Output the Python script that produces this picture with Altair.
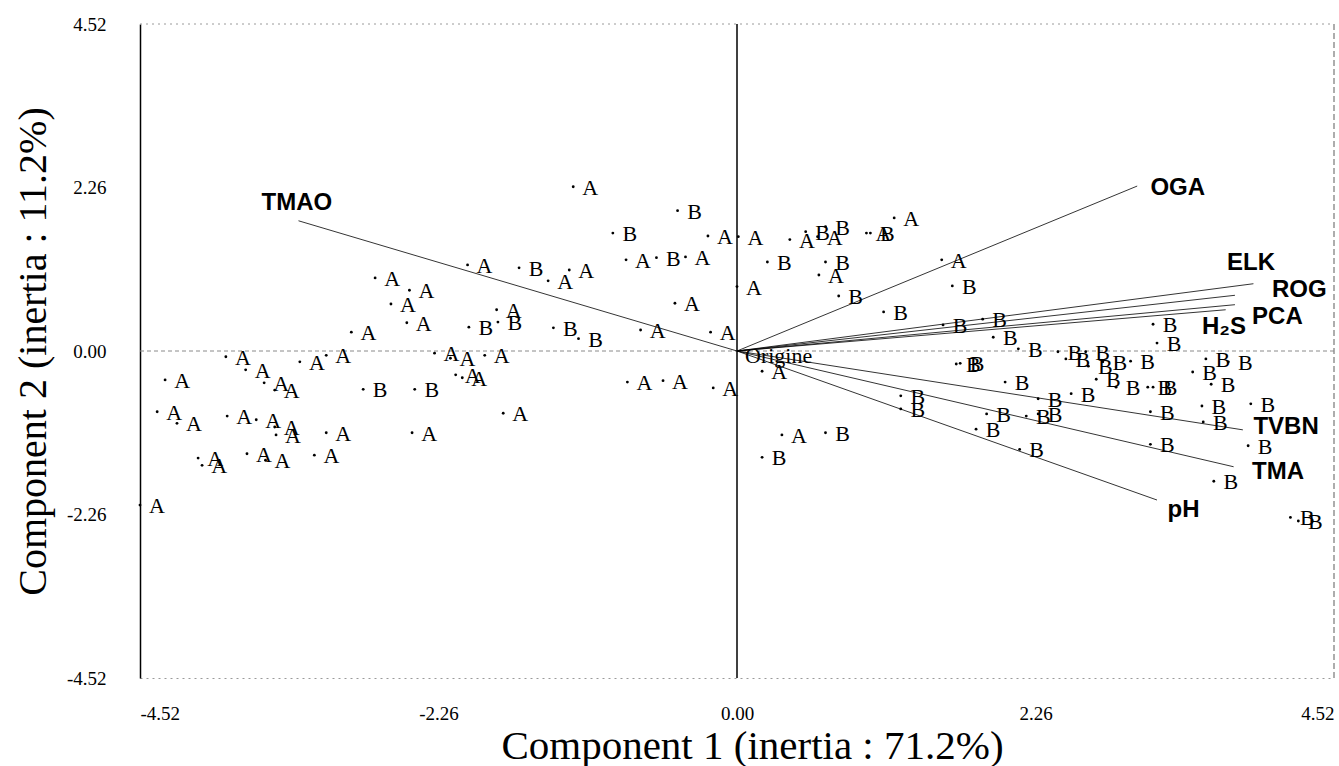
import altair as alt
import pandas as pd

# ---- data ----
a_x = [-3.87, -3.31, -3.11, -3.72, -4.33, -3.58, -3.50, -2.29, -2.17, -1.91,
       -2.13, -2.08, -4.39, -4.24, -3.86, -3.64, -3.50, -3.49, -3.11, -2.46,
       -1.77, -4.08, -4.05, -3.71, -3.57, -3.20, -4.52, -2.92, -1.24, -0.22,
       -0.84, -0.39, -2.04, -1.43, -1.27, -2.74, -2.48, -2.62, -2.50, -1.82,
       -0.47, -0.73, -0.20, -0.83, -0.56, -0.18, 0.19, 0.34, 0.01, 0.40,
       0.61, 0.98, 1.19, 0.62, 0.00, 1.55]
a_y = [-0.08, -0.15, -0.06, -0.26, -0.40, -0.44, -0.54, -0.03, -0.10, -0.06,
       -0.33, -0.37, -0.84, -1.00, -0.90, -0.95, -1.05, -1.16, -1.13, -1.13,
       -0.86, -1.48, -1.58, -1.42, -1.51, -1.44, -2.13, 0.26, 2.27, 1.59,
       1.26, 1.30, 1.19, 0.97, 1.12, 1.01, 0.84, 0.65, 0.39, 0.57,
       0.66, 0.29, 0.26, -0.43, -0.41, -0.51, -0.28, -1.16, 1.58, 1.54,
       1.58, 1.63, 1.84, 1.05, 0.89, 1.26]

b_x = [-2.83, -2.44, -0.45, -0.94, -0.61, -1.65, -2.03, -1.81, -1.39, -1.20,
       0.67, 0.19, 0.52, 0.67, 1.01, 0.23, 0.67, 0.77, 1.11, 1.63,
       1.56, 1.86, 1.94, 3.15, 3.18, 1.66, 1.69, 2.13, 2.43, 2.49,
       2.64, 2.66, 2.77, 2.72, 2.98, 3.55, 3.72, 3.45, 3.59, 2.87,
       3.11, 3.15, 2.03, 2.53, 2.28, 1.24, 1.24, 1.89, 2.19, 2.28,
       3.13, 3.52, 3.53, 3.89, 3.13, 3.87, 1.81, 2.14, 3.61, 4.19, 4.25]
b_y = [-0.53, -0.53, 1.94, 1.63, 1.29, 1.15, 0.33, 0.40, 0.32, 0.17,
       -1.13, -1.47, 1.65, 1.72, 1.63, 1.23, 1.23, 0.76, 0.54, 0.90,
       0.36, 0.44, 0.19, 0.37, 0.11, -0.18, -0.17, 0.03, -0.01, -0.11,
       -0.01, -0.21, -0.15, -0.39, -0.14, -0.11, -0.15, -0.29, -0.46, -0.50,
       -0.50, -0.50, -0.43, -0.59, -0.66, -0.62, -0.80, -0.87, -0.90, -0.87,
       -0.84, -0.76, -0.98, -0.73, -1.29, -1.31, -1.08, -1.36, -1.80, -2.30, -2.35]

var_names = ["TMAO", "OGA", "ELK", "ROG", "PCA", "H\u2082S", "TVBN", "TMA", "pH"]
var_x = [-3.32, 3.03, 3.91, 3.77, 3.77, 3.70, 3.83, 3.76, 3.18]
var_y = [1.80, 2.28, 0.93, 0.77, 0.64, 0.57, -1.09, -1.60, -2.06]
lab_x = [-3.60, 3.13, 3.71, 4.05, 3.90, 3.52, 3.91, 3.90, 3.26]
lab_y = [2.05, 2.25, 1.22, 0.84, 0.47, 0.33, -1.05, -1.67, -2.20]

ticks = [-4.52, -2.26, 0.0, 2.26, 4.52]
lim = 4.52
x_title = "Component 1 (inertia : 71.2%)"
y_title = "Component 2 (inertia : 11.2%)"

# ---- tables ----
pts = pd.DataFrame({
    "x": a_x + b_x,
    "y": a_y + b_y,
    "g": ["A"] * len(a_x) + ["B"] * len(b_x),
})
vec = pd.DataFrame({"x": [0.0] * len(var_names), "y": [0.0] * len(var_names),
                    "vx": var_x, "vy": var_y, "name": var_names,
                    "lx": lab_x, "ly": lab_y})
one = pd.DataFrame({"k": [0]})

W, H = 1194, 654
SERIF = "Liberation Serif"
lbl = "replace(format(datum.value, '.2f'), '\u2212', '-')"

xs = alt.Scale(domain=[-lim, lim], nice=False, zero=False)
ys = alt.Scale(domain=[-lim, lim], nice=False, zero=False)

xaxis = alt.Axis(values=ticks, labelExpr=lbl, labelFont=SERIF, labelFontSize=19,
                 labelColor="black", ticks=False, labelPadding=26,
                 domain=True, domainColor="#9a9a9a", domainDash=[2, 4], domainWidth=1,
                 grid=False, title=x_title, titleFont=SERIF, titleFontSize=41,
                 titleFontWeight="normal", titleColor="black",
                 titleAlign="center", titleBaseline="middle",
                 titleX=W / 2 + 15, titleY=68)
yaxis = alt.Axis(values=ticks, labelExpr=lbl, labelFont=SERIF, labelFontSize=19,
                 labelColor="black", ticks=False, labelPadding=34,
                 domain=True, domainColor="black", domainWidth=1.5,
                 grid=False, title=y_title, titleFont=SERIF, titleFontSize=40,
                 titleFontWeight="normal", titleColor="black",
                 titleAngle=270, titleAlign="center", titleBaseline="middle",
                 titleX=-107, titleY=H / 2)


def X(field):
    return alt.X(field, type="quantitative", scale=xs, axis=xaxis)


def Y(field):
    return alt.Y(field, type="quantitative", scale=ys, axis=yaxis)


base = alt.Chart(pts)

dots = base.mark_circle(size=8, color="black", opacity=1).encode(x=X("x"), y=Y("y"))
letters = base.mark_text(dx=17, dy=1, font=SERIF, fontSize=22, color="black",
                         align="center", baseline="middle").encode(
    x=X("x"), y=Y("y"), text="g:N")

frame_top = alt.Chart(one).mark_rule(color="#9a9a9a", strokeDash=[2, 4], strokeWidth=1).encode(
    x=alt.value(0), x2=alt.value(W), y=alt.value(0))
frame_right = alt.Chart(one).mark_rule(color="#777777", strokeDash=[6, 3], strokeWidth=1.2).encode(
    x=alt.value(W), y=alt.value(0), y2=alt.value(H))

zero_h = alt.Chart(one).mark_rule(color="#8a8a8a", strokeDash=[4, 3], strokeWidth=1).encode(
    y=alt.Y(datum=0, type="quantitative", scale=ys, axis=yaxis))
zero_v = alt.Chart(one).mark_rule(color="black", strokeWidth=1.5).encode(
    x=alt.X(datum=0, type="quantitative", scale=xs, axis=xaxis))

vectors = alt.Chart(vec).mark_rule(color="black", strokeWidth=0.8).encode(
    x=X("x"), y=Y("y"), x2="vx:Q", y2="vy:Q")
vec_labels = alt.Chart(vec).mark_text(align="left", baseline="middle",
                                      font="Liberation Sans", fontWeight="bold",
                                      fontSize=24, color="black").encode(
    x=X("lx"), y=Y("ly"), text="name:N")

origin = alt.Chart(one).mark_text(align="left", baseline="middle", font=SERIF,
                                  fontSize=22, color="black", dx=8, dy=5,
                                  text="Origine").encode(
    x=alt.X(datum=0, type="quantitative", scale=xs, axis=xaxis),
    y=alt.Y(datum=0, type="quantitative", scale=ys, axis=yaxis))

chart = alt.layer(
    frame_top, frame_right, zero_h, zero_v, vectors, dots, letters, vec_labels, origin
).properties(
    width=W, height=H,
    padding={"left": 140, "top": 24, "right": 5, "bottom": 88},
    autosize=alt.AutoSizeParams(type="none"),
    background="white",
).configure_view(stroke=None)

chart.save("out.html", embed_options={"renderer": "svg", "actions": False})
